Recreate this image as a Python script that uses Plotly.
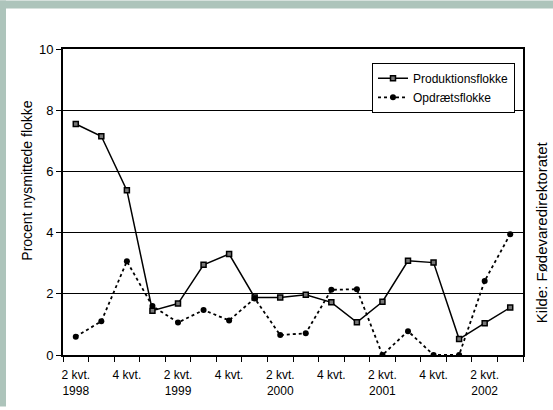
import plotly.graph_objects as go

# Quarters from 2nd quarter 1998 to 3rd quarter 2002
quarters = [
    "2 kvt. 1998", "3 kvt. 1998", "4 kvt. 1998",
    "1 kvt. 1999", "2 kvt. 1999", "3 kvt. 1999", "4 kvt. 1999",
    "1 kvt. 2000", "2 kvt. 2000", "3 kvt. 2000", "4 kvt. 2000",
    "1 kvt. 2001", "2 kvt. 2001", "3 kvt. 2001", "4 kvt. 2001",
    "1 kvt. 2002", "2 kvt. 2002", "3 kvt. 2002",
]

# Percent newly infected flocks
produktion = [7.55, 7.15, 5.38, 1.45, 1.68, 2.95, 3.3, 1.88, 1.88, 1.97,
              1.72, 1.07, 1.74, 3.08, 3.02, 0.52, 1.04, 1.55]
opdraet = [0.6, 1.1, 3.06, 1.6, 1.06, 1.47, 1.13, 1.85, 0.65, 0.71,
           2.13, 2.15, 0.0, 0.78, 0.0, 0.0, 2.42, 3.95]

# Labelled ticks (every second quarter)
tick_idx = [1, 3, 5, 7, 9, 11, 13, 15, 17]
tick_text = ["2 kvt.<br>1998", "4 kvt.", "2 kvt.<br>1999", "4 kvt.",
             "2 kvt.<br>2000", "4 kvt.", "2 kvt.<br>2001", "4 kvt.",
             "2 kvt.<br>2002"]

x = list(range(1, len(quarters) + 1))

W, H = 553, 410
ML, MR, MT, MB = 63, 30, 49, 52
PW, PH = W - ML - MR, H - MT - MB


def px(v):
    return (v - ML) / PW


def py(v):
    return (H - MB - v) / PH


FRAME = "#adc4bb"
FONT = "Liberation Sans, Arial, sans-serif"

fig = go.Figure()
fig.add_trace(go.Scatter(
    x=x, y=produktion, name="Produktionsflokke", mode="lines+markers",
    line=dict(color="black", width=1.5),
    marker=dict(symbol="square", size=5, color="#777777",
                line=dict(color="black", width=1.5)),
    customdata=quarters,
))
fig.add_trace(go.Scatter(
    x=x, y=opdraet, name="Opdrætsflokke", mode="lines+markers",
    line=dict(color="black", width=1.8, dash="dot"),
    marker=dict(symbol="circle", size=6, color="black"),
    customdata=quarters,
))

fig.update_layout(
    width=W, height=H,
    margin=dict(l=ML, r=MR, t=MT, b=MB, pad=0),
    paper_bgcolor="white", plot_bgcolor="white",
    font=dict(family=FONT, color="black"),
    showlegend=True,
    legend=dict(
        x=px(372), y=py(63), xanchor="left", yanchor="top",
        bgcolor="white", bordercolor="black", borderwidth=1,
        font=dict(size=12, family=FONT), tracegroupgap=0,
        itemwidth=30,
    ),
    xaxis=dict(
        range=[0.5, len(quarters) + 0.5],
        tickmode="array", tickvals=tick_idx, ticktext=tick_text,
        ticks="", showgrid=False, zeroline=False,
        showline=True, linecolor="black", linewidth=2, mirror=True,
        tickfont=dict(size=12), ticklabelstandoff=8,
        minor=dict(tickmode="array",
                   tickvals=[i + 0.5 for i in range(0, len(quarters) + 1)],
                   ticks="outside", ticklen=5, tickcolor="black",
                   tickwidth=1, showgrid=False),
    ),
    yaxis=dict(
        range=[0, 10], tickvals=[0, 2, 4, 6, 8, 10],
        ticks="outside", ticklen=5, tickcolor="black", tickwidth=1,
        showgrid=True, gridcolor="black", gridwidth=1, zeroline=False,
        showline=True, linecolor="black", linewidth=2, mirror=True,
        tickfont=dict(size=13),
    ),
    shapes=[
        dict(type="rect", xref="paper", yref="paper",
             x0=px(0), x1=px(W), y0=py(8), y1=py(0),
             fillcolor=FRAME, line=dict(width=0), layer="below"),
        dict(type="rect", xref="paper", yref="paper",
             x0=px(0), x1=px(6), y0=py(H), y1=py(0),
             fillcolor=FRAME, line=dict(width=0), layer="below"),
    ],
    annotations=[
        dict(text="Procent nysmittede flokke", textangle=-90,
             xref="paper", yref="paper", x=px(27), y=py(182),
             xanchor="center", yanchor="middle", showarrow=False,
             font=dict(size=14, family=FONT)),
        dict(text="Kilde: Fødevaredirektoratet", textangle=-90,
             xref="paper", yref="paper", x=px(541), y=py(234),
             xanchor="center", yanchor="middle", showarrow=False,
             font=dict(size=15, family=FONT)),
    ],
)

fig.write_html("out.html")
